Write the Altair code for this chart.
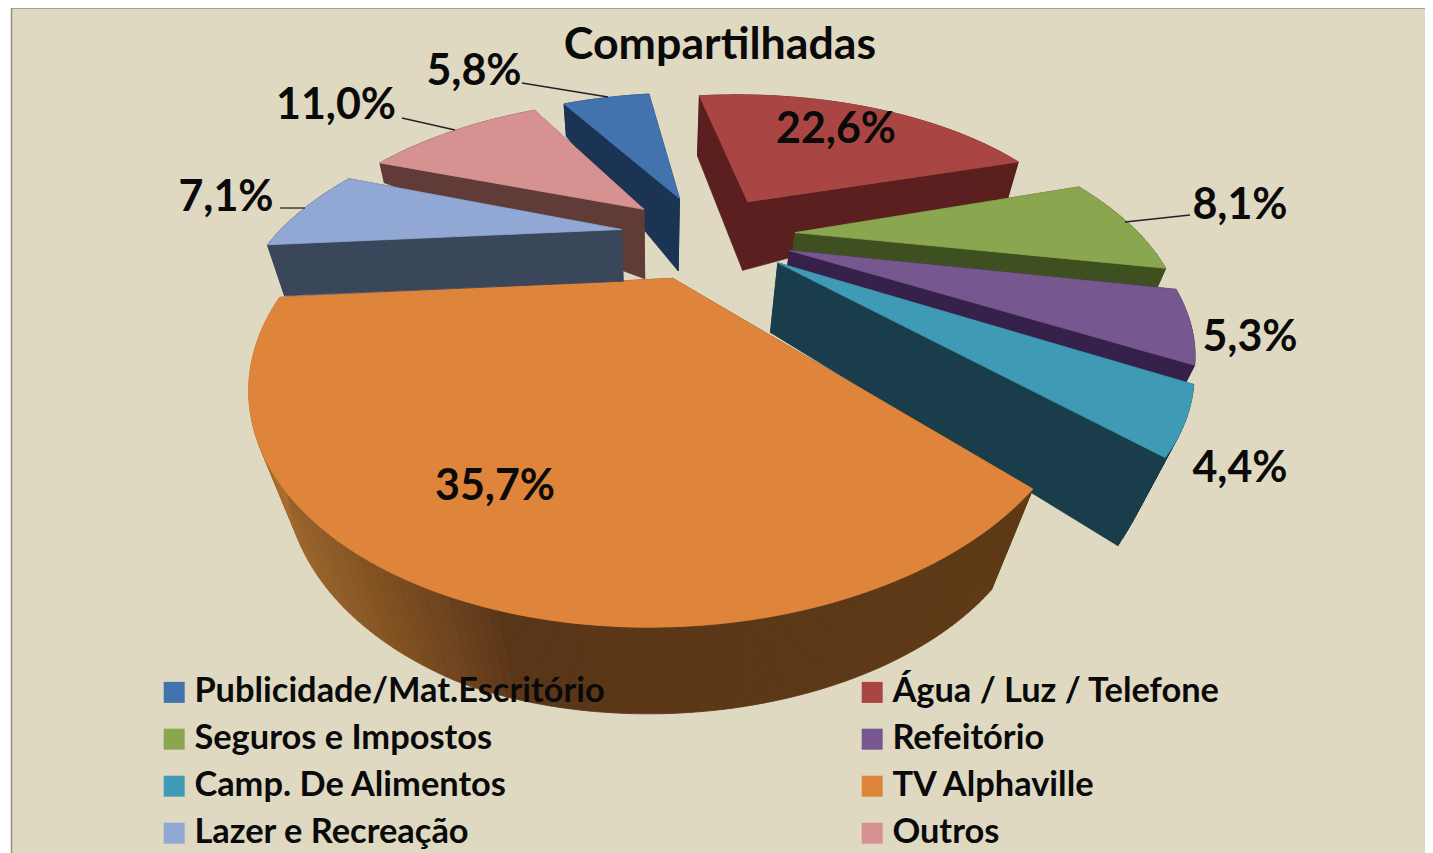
import numpy as np
import pandas as pd
import altair as alt

# ---- data ----
categories = ["Publicidade/Mat.Escritório", "Água / Luz / Telefone", "Seguros e Impostos", "Refeitório",
              "Camp. De Alimentos", "TV Alphaville", "Lazer e Recreação", "Outros"]
shares = [5.8, 22.6, 8.1, 5.3, 4.4, 35.7, 7.1, 11.0]
value_labels = ["5,8%", "22,6%", "8,1%", "5,3%", "4,4%", "35,7%", "7,1%", "11,0%"]

# ---- styling and layout ----
top_colors = ["#4273AE", "#A94643", "#8AA64F", "#76578F", "#3F9AB5", "#DE853B", "#90A8D3", "#D59291"]
wall_colors = ["#1B3454", "#5A1F1E", "#3F5020", "#35214A", "#193D4B", "#63391A", "#3A465A", "#603B38"]
explode = [0.25, 0.25, 0.26, 0.25, 0.25, 0.25, 0.25, 0.25]
first_angle = 330.0
paint_order = [0, 1, 2, 3, 4, 5, 7, 6]
legend_order = [0, 2, 4, 6, 1, 3, 5, 7]  # the legend fills column by column
# wall depth (share of the way to the vanishing point) at apex and along each rim: start, middle, end
apex_depth = [0.06, 0.057, 0.058, 0.058, 0.061, 0.06, 0.044, 0.058]
rim_depth = [(.025, .03, .03), (.046, .04, .03), (.04, .04, .04), (.05, .05, .05),
             (.06, .075, .093), (.11, .112, .08), (.044, .035, .03), (.016, .016, .016)]
CX, CY, A, B, P = 706.0, 235.0, 345.0, 168.8, 0.38
VX, VY = 657.0, 1405.0
shade_pos = [0.0, 0.44, 0.49, 0.55, 0.60, 0.66, 0.78, 1.0]
shade_hex = ["#5E3A16", "#5A3618", "#6E4420", "#80501F", "#8C5A28", "#96602A", "#A86D2E", "#B5763A"]
label_x = [474, 836, 1240, 1250, 1240, 495, 226, 336]
label_y = [72, 130, 206, 338, 469, 487, 198, 106]
leader_x = [522, 402, 280, 1190]
leader_y = [83, 118, 208, 215]
leader_x2 = [608, 455, 305, 1125]
leader_y2 = [97, 130, 208, 222]
FONT = "Lato"


def project(u, v):
    d = 1 - P * v
    return CX + A * u / d, CY + B * v / d


def sink(x, y, f):
    return x + f * (VX - x), y + f * (VY - y)


def hex_mix(t):
    rgb = np.array([[int(h[i:i + 2], 16) for i in (1, 3, 5)] for h in shade_hex], float)
    return "#%02X%02X%02X" % tuple(int(round(np.interp(t, shade_pos, rgb[:, k]))) for k in range(3))


rows = []
pid = 0


def add_poly(xs, ys, colour):
    global pid
    for i, (x, y) in enumerate(zip(xs, ys)):
        rows.append({"poly": pid, "o": i, "px": float(x), "py": float(y), "paint": colour})
    pid += 1


edges = first_angle + 3.6 * np.concatenate([[0], np.cumsum(shares)])
for s in paint_order:
    a0, a1 = edges[s], edges[s + 1]
    mid = np.radians((a0 + a1) / 2)
    eu, ev = explode[s] * np.sin(mid), -explode[s] * np.cos(mid)
    ang = np.radians(np.linspace(a0, a1, max(8, int((a1 - a0) / 1.0))))
    rx, ry = project(eu + np.sin(ang), ev - np.cos(ang))
    ax, ay = project(eu, ev)
    t = np.linspace(0, 1, len(ang))
    fr = np.interp(t, [0, .5, 1], rim_depth[s])
    bx, by = sink(rx, ry, fr)
    abx, aby = sink(ax, ay, apex_depth[s])
    # radial walls
    add_poly([ax, rx[0], bx[0], abx], [ay, ry[0], by[0], aby], wall_colors[s])
    add_poly([ax, rx[-1], bx[-1], abx], [ay, ry[-1], by[-1], aby], wall_colors[s])
    # rim wall
    for i in range(len(ang) - 1):
        j = i + 1
        c = hex_mix(t[i]) if s == 5 else wall_colors[s]
        add_poly([rx[i], rx[j], bx[j], bx[i]], [ry[i], ry[j], by[j], by[i]], c)
    # top face
    add_poly(np.r_[ax, rx], np.r_[ay, ry], top_colors[s])

faces = pd.DataFrame(rows)

xs = alt.Scale(domain=[8, 1425], range=[0, 1417], nice=False, zero=False)
ys = alt.Scale(domain=[8, 853], range=[0, 845], nice=False, zero=False)
X = lambda f: alt.X(f, type="quantitative", scale=xs, axis=None)
Y = lambda f: alt.Y(f, type="quantitative", scale=ys, axis=None)

panel = alt.Chart(pd.DataFrame({"a": [11.5], "b": [1440], "c": [8], "d": [860]})).mark_rect(
    fill="#DFD9C2", stroke="#909090", strokeWidth=1.5).encode(x=X("a"), x2="b", y=Y("c"), y2="d")

pie = alt.Chart(faces).mark_line(interpolate="linear-closed", strokeWidth=0.8).encode(
    x=X("px"), y=Y("py"), order=alt.Order("o:Q"), detail="poly:N",
    fill=alt.Fill("paint:N", scale=None), stroke=alt.Stroke("paint:N", scale=None))

leaders = alt.Chart(pd.DataFrame({"x": leader_x, "y": leader_y, "x2": leader_x2, "y2": leader_y2})).mark_rule(
    color="#222222", strokeWidth=1.3).encode(x=X("x"), y=Y("y"), x2="x2", y2="y2")

labels = alt.Chart(pd.DataFrame({"x": label_x, "y": label_y, "t": value_labels})).mark_text(
    font=FONT, fontSize=43, fontWeight="bold", color="#0A0A0A", align="center", baseline="middle").encode(
    x=X("x"), y=Y("y"), text="t:N")

title = alt.Chart(pd.DataFrame({"x": [720], "y": [46], "t": ["Compartilhadas"]})).mark_text(
    font=FONT, fontSize=44.7, fontWeight="bold", color="#0A0A0A", align="center", baseline="middle").encode(
    x=X("x"), y=Y("y"), text="t:N")

legend = alt.Chart(pd.DataFrame({"c": categories})).mark_square(size=0).encode(
    color=alt.Color("c:N", scale=alt.Scale(domain=[categories[i] for i in legend_order],
                                           range=[top_colors[i] for i in legend_order]), sort=None,
                    legend=alt.Legend(title=None, orient="none", legendX=149, legendY=667, columns=2,
                                      symbolType="square", symbolSize=441, symbolStrokeWidth=0, symbolOpacity=1,
                                      labelFont=FONT, labelFontSize=34.4, labelFontWeight="bold",
                                      labelColor="#0A0A0A", labelOffset=3, labelLimit=600,
                                      rowPadding=12, columnPadding=250)))

chart = alt.layer(panel, pie, leaders, labels, title, legend).properties(
    width=1417, height=845, padding=0, autosize=alt.AutoSizeParams(type="none"), background="#FFFFFF"
).configure_view(stroke=None)

chart.save("out.html", embed_options={"renderer": "svg", "actions": False})
